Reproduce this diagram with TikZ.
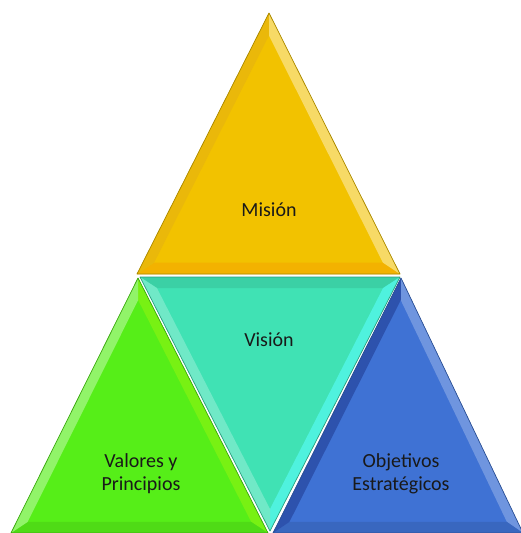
\documentclass[tikz,border=0pt]{standalone}
\usepackage{fontspec}
\setmainfont{Carlito}
\usetikzlibrary{calc}
\usepackage{xcolor}
\definecolor{mision}{HTML}{F2C200}
\definecolor{vision}{HTML}{40E2B4}
\definecolor{valores}{HTML}{56EE18}
\definecolor{objetivos}{HTML}{3F72D4}

% bevelled triangle on the corners #11, #12, #13
% #2 fill, #3 facet 1-2, #4 facet 2-3, #5 facet 3-1
\newcommand{\bevtri}[5]{%
  \coordinate (#1m) at (barycentric cs:#11=1,#12=1,#13=1);
  \coordinate (#1i1) at ($(#11)!0.13!(#1m)$);
  \coordinate (#1i2) at ($(#12)!0.13!(#1m)$);
  \coordinate (#1i3) at ($(#13)!0.13!(#1m)$);
  \fill[#2] (#11) -- (#12) -- (#13) -- cycle;
  \fill[#3] (#11) -- (#12) -- (#1i2) -- (#1i1) -- cycle;
  \fill[#4] (#12) -- (#13) -- (#1i3) -- (#1i2) -- cycle;
  \fill[#5] (#13) -- (#11) -- (#1i1) -- (#1i3) -- cycle;
  \draw[#2!70!black, line width=0.7pt, line join=round] (#11) -- (#12) -- (#13) -- cycle;
}

\begin{document}
\begin{tikzpicture}[x=1pt, y=-1pt,
    lbl/.style={font=\fontsize{20}{23}\selectfont, text=black!90, align=center}]
      \useasboundingbox (0,0) rectangle (521,533);

      % Mision
      \coordinate (m1) at (137,274);
      \coordinate (m2) at (400,274);
      \coordinate (m3) at (269,13);
      \bevtri{m}{mision}{mision!92!red}{mision!60!white}{mision!85!brown}

      % Vision
      \coordinate (v1) at (140,277);
      \coordinate (v2) at (400,277);
      \coordinate (v3) at (270,531);
      \bevtri{v}{vision}{vision!92!black}{vision!55!cyan!80!white}{vision!75!white}

      % Valores y Principios
      \coordinate (p1) at (138,278);
      \coordinate (p2) at (268,533);
      \coordinate (p3) at (11,533);
      \bevtri{p}{valores}{valores!80!yellow}{valores!92!black}{valores!65!white}

      % Objetivos Estrategicos
      \coordinate (o1) at (401,278);
      \coordinate (o2) at (523,533);
      \coordinate (o3) at (273,533);
      \bevtri{o}{objetivos}{objetivos!75!white}{objetivos!90!black}{objetivos!90!blue!80!black}

      \node[lbl] (mision) at (269,210) {Misión};
      \node[lbl] (vision) at (269,340) {Visión};
      \node[lbl] (valores) at (141,474) {Valores y\\Principios};
      \node[lbl] (objetivos) at (401,474) {Objetivos\\Estratégicos};
    \end{tikzpicture}
\end{document}
